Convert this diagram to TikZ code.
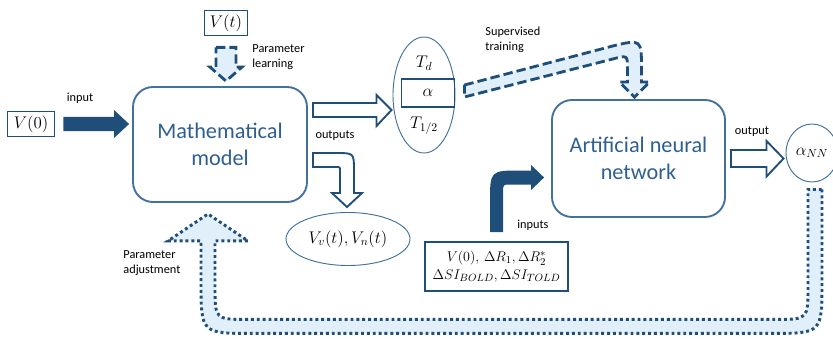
\documentclass[tikz,border=0pt]{standalone}
\usepackage{fontspec}
\setmainfont{Carlito}
\usetikzlibrary{calc,shapes.geometric,positioning}

\definecolor{darkblue}{RGB}{31,78,121}
\definecolor{midblue}{RGB}{65,113,156}
\definecolor{textblue}{RGB}{46,95,145}
\definecolor{paleblue}{RGB}{225,239,251}

\tikzset{
  mathbox/.style={draw=darkblue, line width=1.5pt, inner sep=2pt, font=\fontsize{14}{16}\selectfont},
  procbox/.style={draw=midblue, line width=1.6pt, rounded corners=0.6cm, align=center, text=textblue, font=\fontsize{19}{23}\selectfont},
  valoval/.style={ellipse, draw=midblue, line width=0.8pt, inner sep=0pt, font=\fontsize{14}{16}\selectfont},
  lbl/.style={font=\fontsize{10.5}{12.5}\selectfont, align=left, inner sep=1pt},
  solidarrow/.style={fill=darkblue},
  hollowarrow/.style={draw=darkblue, line width=1.6pt, fill=white, line join=miter},
  dasharrow/.style={draw=darkblue, line width=2.4pt, fill=paleblue, dash pattern=on 8pt off 3.5pt},
  dotarrow/.style={draw=darkblue, line width=2.5pt, fill=paleblue, dash pattern=on 2.5pt off 2.5pt},
}

\begin{document}
\begin{tikzpicture}[x=0.03cm, y=-0.03cm]
  \useasboundingbox (0,0) rectangle (833,339);

  % --- 1. blocs et valeurs ---
  \node[mathbox, minimum width=1.41cm, minimum height=0.75cm] (V0) at (31,124) {$V(0)$};
  \node[mathbox, minimum width=1.29cm, minimum height=0.75cm] (Vt) at (226,23) {$V(t)$};
  \node[procbox, minimum width=5.22cm, minimum height=3.45cm] (model) at (220,144.5) {Mathematical\\model};
  \node[procbox, minimum width=5.19cm, minimum height=3.51cm] (ann) at (638.5,158.5) {Artificial neural\\network};

  % ellipse des parametres
  \node[valoval, minimum width=1.86cm, minimum height=3.48cm] (params) at (424,95) {};
  \node[font=\fontsize{14}{16}\selectfont] (Td) at (424,63) {$T_d$};
  \node[mathbox, line width=1.6pt, minimum width=1.59cm, minimum height=0.84cm] (alpha) at (428,93) {$\alpha$};
  \node[font=\fontsize{14}{16}\selectfont] (Thalf) at (424,126) {$T_{1/2}$};

  \node[valoval, minimum width=3.72cm, minimum height=1.59cm] (Vout) at (348,239) {$V_v(t), V_n(t)$};
  \node[valoval, minimum width=1.56cm, minimum height=1.74cm] (NNout) at (812,153) {\raisebox{-3pt}{$\alpha_{NN}$}};
  \node[mathbox, align=center, minimum width=4.29cm, minimum height=1.47cm, inner sep=1pt,
        font=\fontsize{13}{15}\selectfont] (inbox) at (496.5,266.5)
        {$V(0),\,\Delta R_1, \Delta R_2^*$\\$\Delta SI_{BOLD}, \Delta SI_{TOLD}$};

  % --- 2. fleche input ---
  \coordinate (t1) at ($(model.west |- V0.east)+(-3,0)$);
  \fill[solidarrow] ($(V0.east)+(8,-7)$) -- ($(t1)+(-15,-7)$) -- ++(0,-7) -- (t1)
    -- ($(t1)+(-15,14)$) -- ++(0,-7) -- ($(V0.east)+(8,7)$) -- cycle;

  % --- 3. parameter learning ---
  \coordinate (t0) at ($(Vt.south |- model.north)+(0,-5)$);
  \filldraw[dasharrow] ($(Vt.south)+(-10,11)$) -- ++(20,0) -- ($(t0)+(10,-14)$) -- ++(6,0) -- (t0)
    -- ($(t0)+(-16,-14)$) -- ++(6,0) -- cycle;

  % --- 4. outputs (deux fleches creuses) ---
  \coordinate (o1) at ($(model.east)+(5,-34.5)$);
  \coordinate (tp) at ($(params.west |- o1)+(-1,0)$);
  \filldraw[hollowarrow] ($(o1)+(0,-7)$) -- ($(tp)+(-15,-7)$) -- ++(0,-8) -- (tp)
    -- ($(tp)+(-15,16)$) -- ++(0,-9) -- ($(o1)+(0,7)$) -- cycle;

  \coordinate (o2) at ($(model.east)+(5,15.5)$);
  \coordinate (t2) at ($(Vout.north)+(-1,-5)$);
  \filldraw[hollowarrow] ($(o2)+(0,-7)$) -- ($(t2 |- o2)+(-11,-7)$)
    .. controls ($(t2 |- o2)+(7,-7)$) .. ($(t2 |- o2)+(7,11)$)
    -- ($(t2)+(7,-14)$) -- ++(8,0) -- (t2) -- ($(t2)+(-15,-14)$) -- ++(8,0)
    -- ($(t2 |- o2)+(-7,11)$) .. controls ($(t2 |- o2)+(-7,7)$) .. ($(t2 |- o2)+(-11,7)$)
    -- ($(o2)+(0,7)$) -- cycle;

  % --- 5. supervised training ---
  \coordinate (s3) at ($(alpha.east)+(9,-2)$);
  \coordinate (t3) at ($(ann.north)+(-4,-2)$);
  \filldraw[dasharrow] ($(s3)+(0,-6)$) -- ($(t3)+(-22,-51)$)
    .. controls ($(t3)+(7,-58)$) .. ($(t3)+(7,-28)$)
    -- ($(t3)+(7,-15)$) -- ++(8,0) -- (t3) -- ($(t3)+(-15,-15)$) -- ++(8,0)
    -- ($(t3)+(-7,-28)$) .. controls ($(t3)+(-7,-42)$) .. ($(t3)+(-22,-38)$)
    -- ($(s3)+(0,6)$) -- cycle;

  % --- 6. inputs du reseau ---
  \coordinate (s4) at ($(inbox.north)+(0,-9)$);
  \coordinate (t4) at ($(ann.west)+(-7,19)$);
  \fill[solidarrow] ($(s4)+(-6.5,0)$) -- ($(s4 |- t4)+(-6.5,25)$)
    .. controls ($(s4 |- t4)+(-6.5,-7)$) .. ($(s4 |- t4)+(25,-7)$)
    -- ($(t4)+(-13,-7)$) -- ++(0,-5.5) -- (t4) -- ($(t4)+(-13,12.5)$) -- ++(0,-5.5)
    -- ($(s4 |- t4)+(14,7)$) .. controls ($(s4 |- t4)+(6.5,7)$) .. ($(s4 |- t4)+(6.5,15)$)
    -- ($(s4)+(6.5,0)$) -- cycle;

  % --- 7. output ---
  \coordinate (o6) at ($(ann.east)+(5,0)$);
  \coordinate (t6) at ($(ann.east -| NNout.west)+(-2,0)$);
  \filldraw[hollowarrow] ($(o6)+(0,-8.5)$) -- ($(t6)+(-17,-8.5)$) -- ++(0,-9) -- (t6)
    -- ($(t6)+(-17,18)$) -- ++(0,-9.5) -- ($(o6)+(0,8.5)$) -- cycle;

  % --- 8. parameter adjustment (retour) ---
  \coordinate (s5) at ($(NNout.south)+(3,7)$);
  \coordinate (t5) at ($(model.south)+(-12,11)$);
  \coordinate (b5) at ($(t5)+(0,112.5)$);
  \coordinate (br) at (s5 |- b5);
  \filldraw[dotarrow] ($(s5)+(7,0)$) -- ($(br)+(7,-45)$)
    .. controls ($(br)+(7,7)$) .. ($(br)+(-45,7)$)
    -- ($(b5)+(45,7)$) .. controls ($(b5)+(-7,7)$) .. ($(b5)+(-7,-45)$)
    -- ($(t5)+(-7,27)$) -- ++(-33,0) -- (t5) -- ($(t5)+(40,27)$) -- ++(-33,0)
    -- ($(b5)+(7,-40)$) .. controls ($(b5)+(7,-7)$) .. ($(b5)+(40,-7)$)
    -- ($(br)+(-40,-7)$) .. controls ($(br)+(-7,-7)$) .. ($(br)+(-7,-40)$)
    -- ($(s5)+(-7,0)$) -- cycle;

  % --- 9. etiquettes ---
  \node[lbl] (lin) at (80,98) {input};
  \node[lbl, anchor=west] (llearn) at (251,57) {Parameter\\learning};
  \node[lbl] (louts) at (335,136) {outputs};
  \node[lbl, anchor=west] (lsup) at (484,40) {Supervised\\training};
  \node[lbl] (lout) at (752,132) {output};
  \node[lbl] (lins) at (533,225) {inputs};
  \node[lbl, anchor=west] (ladj) at (122,263) {Parameter\\adjustment};

\end{tikzpicture}
\end{document}
